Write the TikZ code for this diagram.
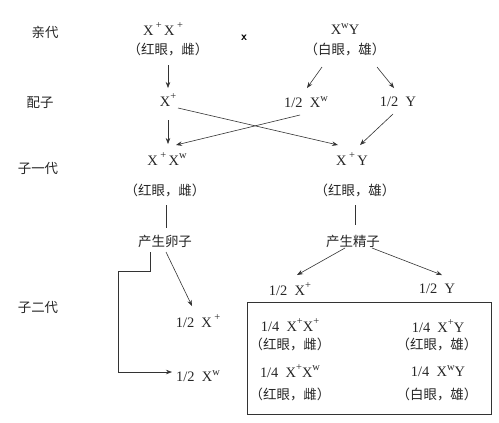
\documentclass[tikz,border=0pt]{standalone}
\usepackage{fontspec}
\setmainfont{Liberation Serif}
\newfontfamily\cjk{Noto Sans CJK SC}
\usetikzlibrary{arrows.meta,calc}
\newcommand\supr[1]{\raisebox{0.95ex}{\fontsize{10.5}{11}\selectfont #1}}
\begin{document}
\begin{tikzpicture}[x=1bp,y=-1bp,
  every node/.style={inner sep=1pt},
  lab/.style={font=\cjk\fontsize{13.5}{15}\selectfont, text=black!85},
  gen/.style={font=\fontsize{14.5}{16}\selectfont, text=black!85},
  ln/.style={line width=0.6pt, draw=black!80},
  arr/.style={ln, -{Stealth[length=6pt,width=4.5pt]}}]
\useasboundingbox[fill=white] (0,0) rectangle (499,422);
% labels of generations
\node[lab] (t1) at (45,32) {亲代};
\node[lab] (t2) at (40,103) {配子};
\node[lab] (t3) at (38,168) {子一代};
\node[lab] (t4) at (38,307) {子二代};
% parents
\node[gen] (p1) at (163,29) {X\,\supr{+}\,X\,\supr{+}};
\node[lab] (p1l) at (168,49) {（红眼，雌）};
\node[font=\sffamily\bfseries\fontsize{12}{12}\selectfont] (cross) at (244,38) {x};
\node[gen] (p2) at (345,29) {X\supr{w}Y};
\node[lab] (p2l) at (345,49) {（白眼，雄）};
% gametes
\node[gen] (g1) at (168,100) {X\supr{+}};
\node[gen] (g2) at (306,102) {1/2\enspace X\supr{w}};
\node[gen] (g3) at (398,102) {1/2\enspace Y};
% F1
\node[gen] (f1) at (167,159) {X\,\supr{+}\,X\supr{w}};
\node[lab] (f1l) at (165,190) {（红眼，雌）};
\node[gen] (f2) at (352,159) {X\,\supr{+}\,Y};
\node[lab] (f2l) at (355,190) {（红眼，雄）};
\node[lab] (egg) at (165,241) {产生卵子};
\node[lab] (sperm) at (353,241) {产生精子};
% F2 gametes
\node[gen] (e1) at (198,321) {1/2\enspace X\,\supr{+}};
\node[gen] (e2) at (198,376) {1/2\enspace X\supr{w}};
\node[gen] (s1) at (290,289) {1/2\enspace X\supr{+}};
\node[gen] (s2) at (437,289) {1/2\enspace Y};
% F2 box
\node[ln, draw, minimum width=244bp, minimum height=112bp, inner sep=0pt] (box) at (369,358.5) {};
\node[gen] (c1) at (290,325) {1/4\enspace X\supr{+}X\supr{+}};
\node[lab] (c1l) at (290,344) {（红眼，雌）};
\node[gen] (c2) at (438,326) {1/4\enspace X\supr{+}Y};
\node[lab] (c2l) at (437,344) {（红眼，雄）};
\node[gen] (c3) at (290,371) {1/4\enspace X\supr{+}X\supr{w}};
\node[lab] (c3l) at (290,394) {（红眼，雌）};
\node[gen] (c4) at (438,371) {1/4\enspace X\supr{w}Y};
\node[lab] (c4l) at (437,394) {（白眼，雄）};
% connectors
\draw[arr] ($(p1l)+(0,16)$) -- ($(g1)+(0,-12)$);
\draw[arr] ($(p2l)+(-23,18)$) -- ($(g2)+(1,-14)$);
\draw[arr] ($(p2l)+(32,18)$) -- ($(g3)+(-4,-14)$);
\draw[arr] ($(g1)+(0,20)$) -- ($(f1)+(1,-15)$);
\draw[arr] ($(g1)+(10,8)$) -- ($(f2)+(-14,-14)$);
\draw[arr] ($(g2)+(-6,13)$) -- ($(f1)+(9,-14)$);
\draw[arr] ($(g3)+(-5,12)$) -- ($(f2)+(8,-14)$);
\draw[ln] ($(f1l)+(1,15)$) -- ($(egg)+(1,-13)$);
\draw[ln] ($(f2l)+(0,15)$) -- ($(sperm)+(2,-16)$);
\draw[arr] ($(egg)+(1,11)$) -- ($(e1)+(-6,-15)$);
\draw[arr] ($(egg)+(-15,11)$) -- ++(0,19) -- ++(-32,0) |- ($(e2.west)+(-3,-4)$);
\draw[arr] ($(sperm)+(-8,7)$) -- ($(s1)+(7,-14)$);
\draw[arr] ($(sperm)+(19,7)$) -- ($(s2)+(5,-14)$);
\end{tikzpicture}
\end{document}
